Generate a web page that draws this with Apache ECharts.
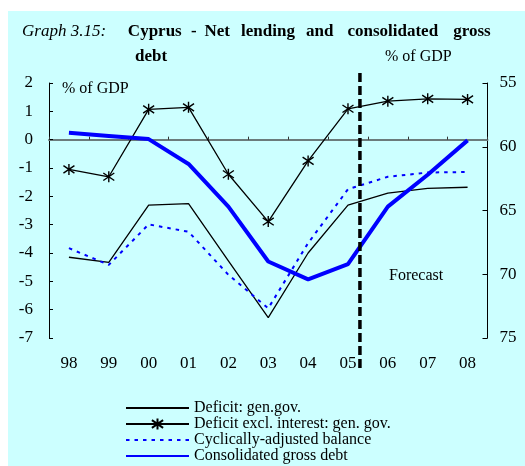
<!DOCTYPE html>
<html>
<head>
<meta charset="utf-8">
<script src="https://cdn.jsdelivr.net/npm/echarts@6/dist/echarts.min.js"></script>
<style>
  html, body { margin: 0; padding: 0; background: #fff; }
  #chart {
    width: 525px; height: 466px;
    background: linear-gradient(#ccffff, #ccffff) no-repeat 8px 11px / 517px 455px, #ffffff;
  }
</style>
</head>
<body>
<div id="chart"></div>
<script>
// Years on the category axis
const years = ['98', '99', '00', '01', '02', '03', '04', '05', '06', '07', '08'];

// Net lending, % of GDP (left axis)
const deficitGenGov = [-4.15, -4.33, -2.31, -2.26, -4.28, -6.28, -4.0, -2.31, -1.89, -1.72, -1.68];
const deficitExclInterest = [-1.05, -1.31, 1.07, 1.14, -1.22, -2.89, -0.75, 1.09, 1.36, 1.44, 1.42];
const cyclicallyAdjusted = [-3.83, -4.42, -2.99, -3.25, -4.77, -5.95, -3.65, -1.75, -1.31, -1.16, -1.14];

// Consolidated gross debt, % of GDP (right axis, inverted)
const grossDebt = [58.9, 59.15, 59.4, 61.35, 64.7, 69.0, 70.4, 69.2, 64.7, 62.2, 59.5];

// Start of the forecast period (between 05 and 06, on the year-index axis)
const forecastLine = [[7.3, 2.35], [7.3, -8.06]];

const seriesNames = [
  'Deficit: gen.gov.',
  'Deficit excl. interest: gen. gov.',
  'Cyclically-adjusted balance',
  'Consolidated gross debt'
];

const serif = '"Liberation Serif", "Times New Roman", serif';
const asterisk = 'path://M5,0L5,10M0.6,1.6L9.4,8.4M0.6,8.4L9.4,1.6';

const chart = echarts.init(document.getElementById('chart'), null, { renderer: 'canvas' });

// Heading words spread across a tracked line between a start and end x
const headingText = 'Cyprus - Net lending and consolidated gross';
const headingFont = 'bold 17px ' + serif;
const headingStart = 125, headingEnd = 493;
const measureCtx = document.createElement('canvas').getContext('2d');
measureCtx.font = headingFont;
const words = headingText.split(' ');
const spaceW = measureCtx.measureText(' ').width;
const naturalW = words.reduce((s, w) => s + measureCtx.measureText(w).width, 0) + spaceW * (words.length - 1);
const tracking = (headingEnd - headingStart - naturalW) / (headingText.length - 1);

const textEls = [
  { type: 'text', x: 22, y: 31.3, style: { text: 'Graph 3.15:', font: 'italic 17px ' + serif, fill: '#000', verticalAlign: 'middle' } },
  { type: 'text', x: 135, y: 56.3, style: { text: 'debt', font: headingFont, fill: '#000', verticalAlign: 'middle' } },
  { type: 'text', x: 385, y: 56.6, style: { text: '% of GDP', font: '16px ' + serif, fill: '#000', verticalAlign: 'middle' } },
  { type: 'text', x: 62, y: 88.6, style: { text: '% of GDP', font: '16px ' + serif, fill: '#000', verticalAlign: 'middle' } },
  { type: 'text', x: 389, y: 275.3, style: { text: 'Forecast', font: '16px ' + serif, fill: '#000', verticalAlign: 'middle' } }
];
let cursor = headingStart;
words.forEach((w) => {
  const ww = measureCtx.measureText(w).width;
  const boxW = ww + tracking * (w.length - 1);
  // each word sits centred in its tracked box
  textEls.push({ type: 'text', x: cursor + (boxW - ww) / 2, y: 31.3, style: { text: w, font: headingFont, fill: '#000', verticalAlign: 'middle' } });
  cursor += boxW + tracking + spaceW + tracking;
});

// Legend entries: symbol-less series show only their line
const hiddenMarker = { color: 'rgba(0,0,0,0)', borderColor: 'rgba(0,0,0,0)', opacity: 0 };
const legendData = [
  { name: seriesNames[0], itemStyle: hiddenMarker },
  { name: seriesNames[1] },
  { name: seriesNames[2], itemStyle: hiddenMarker },
  { name: seriesNames[3], itemStyle: hiddenMarker }
];

const option = {
  animation: false,
  backgroundColor: 'transparent',
  textStyle: { fontFamily: serif },
  grid: { left: 49, right: 37.5, top: 83, height: 255, containLabel: false },
  legend: {
    data: legendData,
    orient: 'vertical',
    left: 125,
    top: 400,
    height: 66,
    padding: 0,
    itemWidth: 63,
    itemHeight: 14,
    itemGap: 0,
    selectedMode: false,
    textStyle: { fontFamily: serif, fontSize: 16, lineHeight: 16, color: '#000' }
  },
  xAxis: [
    {
      type: 'category',
      data: years,
      position: 'bottom',
      boundaryGap: true,
      axisLine: { show: false, onZero: false },
      axisTick: { show: false },
      splitLine: { show: false },
      axisLabel: { margin: 17, fontFamily: serif, fontSize: 17, color: '#000' }
    },
    {
      // year-index axis: draws the zero line with year-boundary ticks
      type: 'value',
      min: -0.5,
      max: 10.5,
      interval: 1,
      position: 'top',
      axisLine: { show: true, onZero: true, lineStyle: { color: '#6b7b7b', width: 2 } },
      axisTick: { show: true, inside: false, length: 3, lineStyle: { color: '#333', width: 1 } },
      axisLabel: { show: false },
      splitLine: { show: false }
    }
  ],
  yAxis: [
    {
      type: 'value',
      position: 'left',
      min: -7,
      max: 2,
      interval: 1,
      axisLine: { show: true, onZero: false, lineStyle: { color: '#000', width: 1 } },
      axisTick: { show: true, inside: true, length: 4, lineStyle: { color: '#000' } },
      splitLine: { show: false },
      axisLabel: { margin: 16, fontFamily: serif, fontSize: 17, color: '#000' }
    },
    {
      type: 'value',
      position: 'right',
      inverse: true,
      min: 55,
      max: 75,
      interval: 5,
      axisLine: { show: true, onZero: false, lineStyle: { color: '#000', width: 1 } },
      axisTick: { show: true, inside: true, length: 5, lineStyle: { color: '#000' } },
      splitLine: { show: false },
      axisLabel: { margin: 12, fontFamily: serif, fontSize: 17, color: '#000' }
    }
  ],
  graphic: textEls,
  series: [
    {
      name: seriesNames[0],
      type: 'line',
      data: deficitGenGov,
      symbol: 'none',
      lineStyle: { color: '#000', width: 1.3 },
      itemStyle: { color: '#000' },
      emphasis: { disabled: true }
    },
    {
      name: seriesNames[1],
      type: 'line',
      data: deficitExclInterest,
      symbol: asterisk,
      symbolSize: 11,
      lineStyle: { color: '#000', width: 1.3 },
      itemStyle: { color: '#000', borderColor: '#000', borderWidth: 1.4 },
      emphasis: { disabled: true }
    },
    {
      name: seriesNames[2],
      type: 'line',
      data: cyclicallyAdjusted,
      symbol: 'none',
      lineStyle: { color: '#0000ff', width: 2, type: [3.5, 5] },
      itemStyle: { color: '#0000ff' },
      emphasis: { disabled: true }
    },
    {
      name: seriesNames[3],
      type: 'line',
      yAxisIndex: 1,
      data: grossDebt,
      symbol: 'none',
      lineStyle: { color: '#0000ff', width: 4 },
      itemStyle: { color: '#0000ff' },
      emphasis: { disabled: true }
    },
    {
      name: 'forecast',
      type: 'line',
      xAxisIndex: 1,
      yAxisIndex: 0,
      data: forecastLine,
      symbol: 'none',
      clip: false,
      silent: true,
      lineStyle: { color: '#000', width: 3.5, type: [9, 4] },
      emphasis: { disabled: true },
      z: 5
    }
  ]
};

chart.setOption(option);
</script>
</body>
</html>
